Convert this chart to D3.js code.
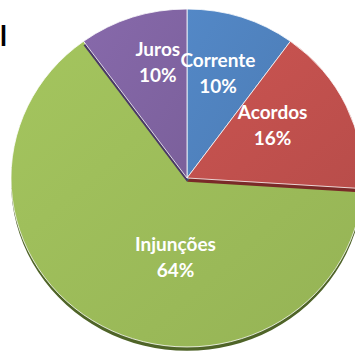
<!DOCTYPE html>
<html>
<head>
<meta charset="utf-8">
<script src="https://cdn.jsdelivr.net/npm/d3@7/dist/d3.min.js"></script>
<style>
  html, body { margin: 0; padding: 0; background: #fff; }
  svg { display: block; }
  .lbl { font-family: Lato, "Open Sans", sans-serif; font-weight: bold; font-size: 19px; fill: #fff; }
</style>
</head>
<body>
<svg id="chart" width="355" height="354"></svg>
<script>
// chart data
var categories = ["Corrente", "Acordos", "Injunções", "Juros"];
var values = [10, 16, 64, 10];
var colors = ["#4F81BD", "#C0504D", "#9BBB59", "#8064A2"];
var darkColors = ["#2c4d74", "#7a2a28", "#4f6428", "#4a3866"];

var width = 355, height = 354;
var cx = 187, cy = 178, radius = 176, squash = 0.96, depth = 4;

var svg = d3.select("#chart");

// title fragment at the left edge
svg.append("text")
    .attr("x", 0)
    .attr("y", 46)
    .style("font-family", "Lato, sans-serif")
    .style("font-weight", "bold")
    .style("font-size", "28px")
    .style("fill", "#000")
    .text("l");

var defs = svg.append("defs");
colors.forEach(function (c, i) {
    var g = defs.append("linearGradient")
        .attr("id", "grad" + i)
        .attr("x1", "0").attr("y1", "0")
        .attr("x2", "1").attr("y2", "1");
    g.append("stop").attr("offset", "0%").attr("stop-color", d3.color(c).brighter(0.15));
    g.append("stop").attr("offset", "100%").attr("stop-color", d3.color(c).darker(0.12));
});

var pie = d3.pie().sort(null).value(function (d) { return d; });
var arcs = pie(values);
var arc = d3.arc().innerRadius(0).outerRadius(radius);

var g = svg.append("g")
    .attr("transform", "translate(" + cx + "," + cy + ") scale(1," + squash + ")");

// drawing order so that side shadows fall on the big green slice
var order = [2, 0, 1, 3];
order.forEach(function (i) {
    var d = arcs[i];
    g.append("path")
        .attr("d", arc(d))
        .attr("transform", "translate(0," + depth + ")")
        .attr("fill", darkColors[i]);
    g.append("path")
        .attr("d", arc(d))
        .attr("fill", "url(#grad" + i + ")")
        .attr("stroke", "#fff")
        .attr("stroke-width", 1)
        .attr("stroke-opacity", 0.8);
});

// label placement (angle in degrees, fraction of radius)
var labelPos = [[15.7, 0.65], [57, 0.58], [188, 0.47], [346.5, 0.71]];
var total = d3.sum(values);
arcs.forEach(function (d, i) {
    var a = labelPos[i][0] * Math.PI / 180;
    var r = labelPos[i][1] * radius;
    var x = cx + r * Math.sin(a);
    var y = cy - r * Math.cos(a) * squash;
    var t = svg.append("text")
        .attr("class", "lbl")
        .attr("text-anchor", "middle")
        .attr("x", x)
        .attr("y", y);
    t.append("tspan").attr("x", x).attr("dy", "-0.3em").text(categories[i]);
    t.append("tspan").attr("x", x).attr("dy", "1.38em")
        .text(Math.round(values[i] / total * 100) + "%");
});
</script>
</body>
</html>
